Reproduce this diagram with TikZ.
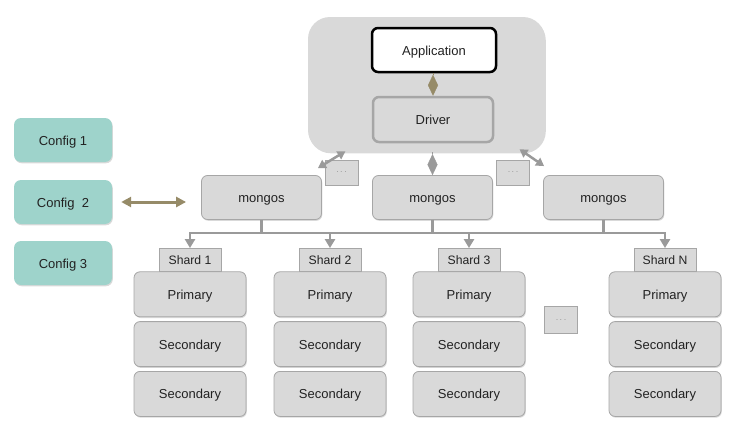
\documentclass[tikz,border=0pt]{standalone}
\usepackage{fontspec}
\setmainfont{Liberation Sans}
\usepackage{tikz}
\usetikzlibrary{positioning,arrows.meta,shadows}
\definecolor{boxgray}{HTML}{D9D9D9}
\definecolor{edgegray}{HTML}{A6A6A6}
\definecolor{arrowgray}{HTML}{9A9A9A}
\definecolor{olive}{HTML}{968B68}
\definecolor{configteal}{HTML}{9ED3CB}
\definecolor{textdark}{HTML}{222222}

\begin{document}
\begin{tikzpicture}[x=1pt,y=-1pt]
			\tikzstyle{label} = [text=textdark, font=\fontsize{13}{15}\selectfont, text height=11pt, text depth=1pt]
			\tikzstyle{soft} = [drop shadow={shadow xshift=0.8pt, shadow yshift=-1.3pt, opacity=0.3}]
			\tikzstyle{box} = [soft, label, rounded corners=6pt, fill=boxgray, draw=edgegray, line width=0.8pt]
			\tikzstyle{router} = [box, minimum width=120pt, minimum height=44pt]
			\tikzstyle{member} = [box, minimum width=112pt, minimum height=45pt]
			\tikzstyle{shardtag} = [fill=boxgray, draw=edgegray, line width=0.8pt, minimum width=62pt, minimum height=23pt, text=textdark, font=\fontsize{12.2}{14}\selectfont, text height=9.6pt, text depth=1.4pt]
			\tikzstyle{config} = [soft, label, rounded corners=7pt, fill=configteal, minimum width=98pt, minimum height=44pt]
			\tikzstyle{more} = [fill=boxgray, draw=edgegray, line width=0.8pt, minimum width=33pt, minimum height=25pt, text=arrowgray, font=\fontsize{9}{10}\selectfont]
			\tikzstyle{bus} = [draw=arrowgray, line width=2.5pt]
			\tikzstyle{down} = [bus, -{Triangle[width=10pt,length=9pt]}]
			\tikzstyle{both} = [bus, {Triangle[width=9pt,length=8pt]}-{Triangle[width=9pt,length=8pt]}]
			\tikzstyle{link} = [line width=0.3pt, -{Kite[width=10pt,length=21pt,inset=10.5pt]}]
			\tikzstyle{cfglink} = [draw=olive, line width=3pt, {Triangle[width=10pt,length=10pt]}-{Triangle[width=10pt,length=10pt]}]

			\useasboundingbox (0,0) rectangle (737,447);

			\node[soft, fill=boxgray, rounded corners=22pt, minimum width=237pt, minimum height=135pt] (client) at (426.5,84.5) {};
			\node[label, rounded corners=6pt, fill=white, draw=black, line width=2.5pt, minimum width=124pt, minimum height=44pt] (app) at (434,50) {Application};
			\node[label, rounded corners=6pt, fill=boxgray, draw=edgegray, line width=2.5pt, minimum width=120pt, minimum height=45pt] (driver) at (433,119.5) {Driver};
			\draw[link, draw=olive, fill=olive] (app.south -| driver.north) -- (driver.north);

			\node[router] (mongos1) at (261.5,197.5) {mongos};
			\node[router] (mongos2) at (432.5,197.5) {mongos};
			\node[router] (mongos3) at (603.5,197.5) {mongos};
			\node[more] (moreA) at (341.5,172.5) {.\,.\,.};
			\node[more] (moreB) at (513,172.5) {.\,.\,.};

			\draw[link, draw=arrowgray, fill=arrowgray] (mongos2.north |- client.south) -- (mongos2.north);
			\draw[both] ([xshift=-81pt, yshift=1pt]client.south) -- ([shift={(-4pt,7pt)}]mongos1.north east);
			\draw[both] ([xshift=93pt, yshift=3pt]client.south) -- ([shift={(1pt,9pt)}]mongos3.north west);

			\node[config] (config1) at (63,140) {Config 1};
			\node[config] (config2) at (63,202) {Config\ \ 2};
			\node[config] (config3) at (63,263) {Config 3};
			\draw[cfglink, shorten <=9pt, shorten >=15pt] (config2.east) -- (config2.east -| mongos1.west);

			\node[shardtag] (shard1) at (190,260) {Shard 1};
			\node[member, below=-0.5pt of shard1] (primary1) {Primary};
			\node[member, below=4pt of primary1] (secA1) {Secondary};
			\node[member, below=4pt of secA1] (secB1) {Secondary};

			\node[shardtag] (shard2) at (330,260) {Shard 2};
			\node[member, below=-0.5pt of shard2] (primary2) {Primary};
			\node[member, below=4pt of primary2] (secA2) {Secondary};
			\node[member, below=4pt of secA2] (secB2) {Secondary};

			\node[shardtag] (shard3) at (469,260) {Shard 3};
			\node[member, below=-0.5pt of shard3] (primary3) {Primary};
			\node[member, below=4pt of primary3] (secA3) {Secondary};
			\node[member, below=4pt of secA3] (secB3) {Secondary};

			\node[shardtag] (shardN) at (665,260) {Shard N};
			\node[member, below=-0.5pt of shardN] (primaryN) {Primary};
			\node[member, below=4pt of primaryN] (secAN) {Secondary};
			\node[member, below=4pt of secAN] (secBN) {Secondary};

			\node[more, minimum height=27pt] (moreC) at (561,320) {.\,.\,.};

			\coordinate (busline) at (0,233);
			\draw[bus] (mongos1.south) -- (mongos1.south |- busline);
			\draw[bus] (mongos2.south) -- (mongos2.south |- busline);
			\draw[bus] (mongos3.south) -- (mongos3.south |- busline);
			\draw[down] (shardN.north |- busline) -| (shard1.north);
			\draw[down] (shard1.north |- busline) -| (shardN.north);
			\draw[down] (shard2.north |- busline) -- (shard2.north);
			\draw[down] (shard3.north |- busline) -- (shard3.north);
		\end{tikzpicture}
\end{document}
